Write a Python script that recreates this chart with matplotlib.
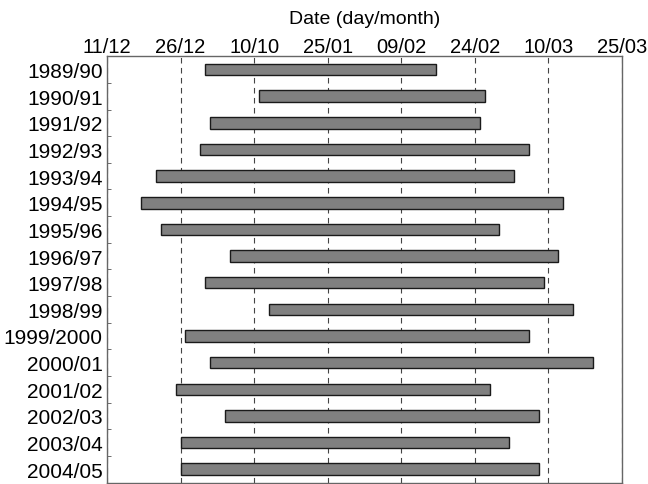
import matplotlib
matplotlib.use("Agg")
import matplotlib.pyplot as plt
import numpy as np

plt.rcParams['font.family'] = ['Liberation Sans', 'DejaVu Sans']

seasons = ['1989/90', '1990/91', '1991/92', '1992/93', '1993/94', '1994/95', '1995/96', '1996/97',
           '1997/98', '1998/99', '1999/2000', '2000/01', '2001/02', '2002/03', '2003/04', '2004/05']

# days counted from 11 December
start_day = [20, 31, 21, 19, 10, 7, 11, 25, 20, 33, 16, 21, 14, 24, 15, 15]
end_day = [67, 77, 76, 86, 83, 93, 80, 92, 89, 95, 86, 99, 78, 88, 82, 88]

tick_days = [0, 15, 30, 45, 60, 75, 90, 105]
tick_labels = ['11/12', '26/12', '10/10', '25/01', '09/02', '24/02', '10/03', '25/03']

fig = plt.figure(figsize=(6.48, 4.85), dpi=100)
ax = fig.add_axes([0.165, 0.003, 0.795, 0.879])

y = np.arange(len(seasons))
widths = np.array(end_day) - np.array(start_day)
ax.barh(y, widths, left=start_day, height=0.43, color='#808080',
        edgecolor='#1a1a1a', linewidth=1.0, zorder=3)

ax.set_xlim(0, 105)
ax.set_ylim(len(seasons) - 0.5, -0.5)

ax.xaxis.tick_top()
ax.xaxis.set_label_position('top')
ax.set_xticks(tick_days)
ax.set_xticklabels(tick_labels, fontsize=14.5)
ax.set_xlabel('Date (day/month)', fontsize=14, labelpad=10)
ax.tick_params(axis='x', length=0, pad=0.5)

ax.set_yticks(y)
ax.set_yticklabels(seasons, fontsize=15)
ax.set_yticks(np.arange(len(seasons) - 1) + 0.5, minor=True)
ax.tick_params(axis='y', which='major', length=0, pad=3)
ax.tick_params(axis='y', which='minor', direction='in', length=3, color='#555555')

ax.grid(axis='x', linestyle=(0, (5, 4)), color='#444444', linewidth=0.8, zorder=0)
for s in ax.spines.values():
    s.set_color('#666666')
    s.set_linewidth(1.0)

fig.savefig('out.png', dpi=100)
